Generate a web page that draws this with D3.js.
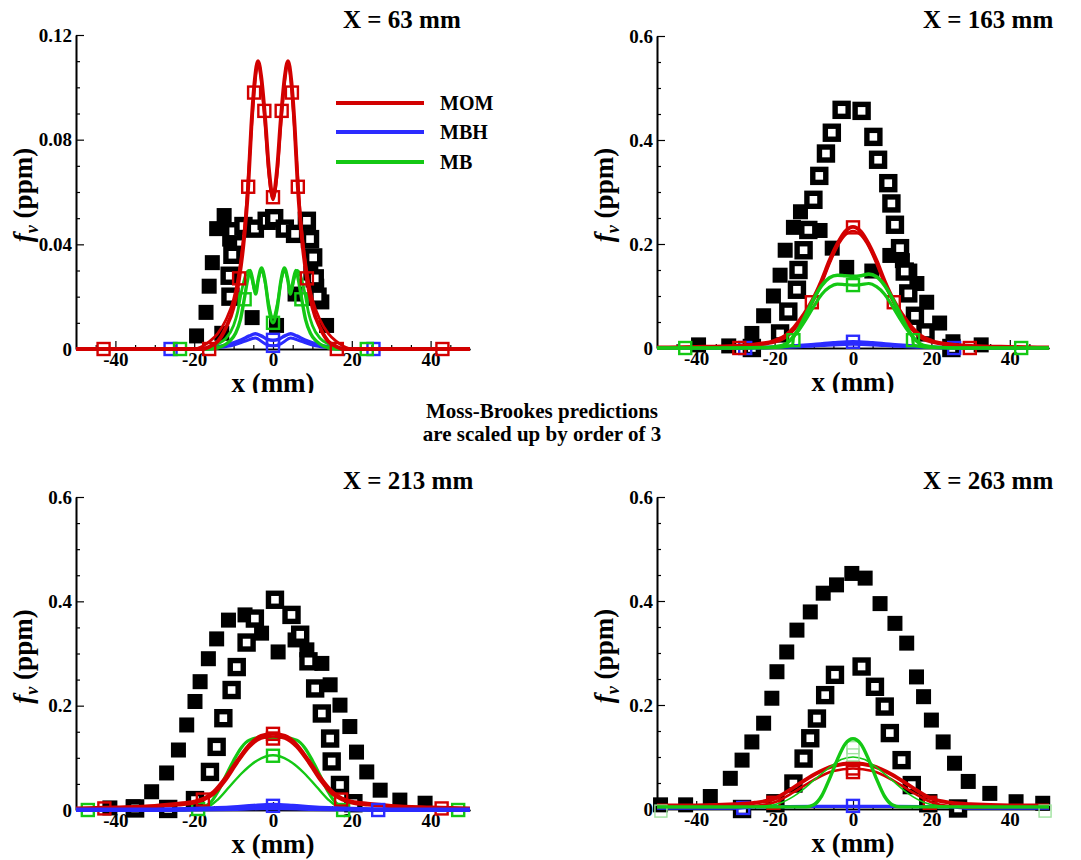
<!DOCTYPE html>
<html><head><meta charset="utf-8">
<script src="https://cdn.jsdelivr.net/npm/d3@7"></script>
<style>
body{margin:0;background:#fff}
svg{display:block}
</style></head>
<body><svg id="c" width="1081" height="860"></svg>
<script>
// ---------- tick values / labels ----------
const xTickValues = [-40,-20,0,20,40];
const xTickLabels = ["-40","-20","0","20","40"];
const xMinorTicks = [-45,-35,-30,-25,-15,-10,-5,5,10,15,25,30,35,45];
const yTickValues1 = [0,0.04,0.08,0.12];
const yTickLabels1 = ["0","0.04","0.08","0.12"];
const yMinorTicks1 = [0.01,0.02,0.03,0.05,0.06,0.07,0.09,0.10,0.11];
const yTickValues = [0,0.2,0.4,0.6];
const yTickLabels = ["0","0.2","0.4","0.6"];
const yMinorTicks = [0.05,0.1,0.15,0.25,0.3,0.35,0.45,0.5,0.55];
const titles = ["X = 63 mm","X = 163 mm","X = 213 mm","X = 263 mm"];
const legendNames = ["MOM","MBH","MB"];
const noteLines = ["Moss-Brookes predictions","are scaled up by order of 3"];

// ---------- Panel 1 : X = 63 mm ----------
const p1Filled = [[-19.4,0.005],[-17.0,0.014],[-16.2,0.024],[-15.4,0.033],[-14.3,0.046],[-12.4,0.051],[-11.0,0.042],[-13.0,0.006],[-5.3,0.012],[0.9,0.009],[5.6,0.021],[9.6,0.029],[11.1,0.024],[12.4,0.018],[13.6,0.009]];
const p1Open = [[-10.8,0.020],[-11.0,0.028],[-10.3,0.036],[-10.1,0.045],[-7.5,0.047],[-4.6,0.046],[-1.6,0.049],[0.3,0.050],[3.0,0.046],[5.6,0.044],[8.6,0.049],[9.4,0.042],[10.2,0.035],[10.6,0.027],[11.3,0.020]];
const p1RedA = [[-50,0],[-18,0],[-16,0.001],[-14,0.003],[-12,0.008],[-10,0.016],[-8.6,0.027],[-7.5,0.040],[-6.3,0.062],[-5.5,0.085],[-4.6,0.103],[-3.8,0.110],[-3.0,0.104],[-2.0,0.088],[-1.0,0.068],[0,0.058],[1.0,0.068],[2.0,0.088],[3.0,0.104],[3.8,0.110],[4.6,0.103],[5.5,0.085],[6.3,0.062],[7.5,0.040],[8.6,0.027],[10,0.016],[12,0.008],[14,0.003],[16,0.001],[18,0],[50,0]];
const p1RedB = [[-50,0],[-20,0],[-18,0.001],[-16,0.003],[-14,0.006],[-12,0.011],[-10,0.019],[-9,0.026],[-8,0.036],[-7,0.050],[-6,0.072],[-5,0.094],[-4.2,0.107],[-3.6,0.109],[-3,0.103],[-2,0.086],[-1,0.066],[0,0.057],[1,0.066],[2,0.086],[3,0.103],[3.6,0.109],[4.2,0.107],[5,0.094],[6,0.072],[7,0.050],[8,0.036],[9,0.026],[10,0.019],[12,0.011],[14,0.006],[16,0.003],[18,0.001],[20,0],[50,0]];
const p1RedMarks = [[-43,0],[-16.2,0],[-8.6,0.027],[-6.3,0.062],[-4.8,0.098],[-2.2,0.091],[0,0.058],[2.2,0.091],[4.8,0.098],[6.3,0.062],[8.6,0.027],[16.2,0],[43,0]];
const p1GreenA = [[-50,0],[-16,0],[-13,0.001],[-11,0.003],[-9.5,0.006],[-8.3,0.011],[-7.3,0.019],[-6.5,0.026],[-5.8,0.030],[-5.1,0.026],[-4.4,0.021],[-3.7,0.027],[-2.9,0.031],[-2.0,0.026],[-1.0,0.015],[0,0.010],[1.0,0.015],[2.0,0.026],[2.9,0.031],[3.7,0.027],[4.4,0.021],[5.1,0.026],[5.8,0.030],[6.5,0.026],[7.3,0.019],[8.3,0.011],[9.5,0.006],[11,0.003],[13,0.001],[16,0],[50,0]];
const p1GreenB = [[-50,0],[-17,0],[-14,0.002],[-12,0.004],[-10,0.009],[-9,0.014],[-8,0.022],[-7,0.028],[-6.2,0.030],[-5.4,0.027],[-4.6,0.022],[-3.8,0.026],[-3.0,0.030],[-2.2,0.027],[-1.2,0.018],[0,0.012],[1.2,0.018],[2.2,0.027],[3.0,0.030],[3.8,0.026],[4.6,0.022],[5.4,0.027],[6.2,0.030],[7,0.028],[8,0.022],[9,0.014],[10,0.009],[12,0.004],[14,0.002],[17,0],[50,0]];
const p1GreenMarks = [[-23.6,0],[-7.2,0.019],[0,0.010],[7.2,0.019],[23.8,0]];
const p1BlueA = [[-50,0],[-20,0],[-16,0.0005],[-12,0.0015],[-8,0.0035],[-6,0.005],[-4.5,0.0058],[-3,0.005],[-1.5,0.0038],[0,0.0033],[1.5,0.0038],[3,0.005],[4.5,0.0058],[6,0.005],[8,0.0035],[12,0.0015],[16,0.0005],[20,0],[50,0]];
const p1BlueB = [[-50,0],[-18,0],[-14,0.0005],[-10,0.0015],[-7,0.003],[-4.5,0.0042],[-2,0.002],[0,0.0012],[2,0.002],[4.5,0.0042],[7,0.003],[10,0.0015],[14,0.0005],[18,0],[50,0]];
const p1BlueMarks = [[-26,0],[0,0.0035],[0,0.0012],[25.5,0]];

// ---------- Panel 2 : X = 163 mm ----------
const p2Filled = [[-39.4,0.006],[-31.7,0.004],[-25.8,0.028],[-22.8,0.062],[-20.3,0.100],[-18.6,0.140],[-17.3,0.188],[-15.2,0.232],[-13.4,0.262],[-8.4,0.226],[-5.3,0.192],[-1.6,0.155],[4.8,0.148],[9.4,0.178],[12.6,0.168],[14.5,0.148],[16.3,0.124],[18.8,0.088],[22.1,0.048],[25.5,0.012],[32.7,0.006]];
const p2Open = [[-25.8,0],[-18.6,0.028],[-16.5,0.070],[-14.3,0.112],[-13.9,0.150],[-12.6,0.188],[-11.4,0.227],[-10.1,0.285],[-8.6,0.331],[-6.9,0.374],[-5.4,0.414],[-2.9,0.458],[2.2,0.456],[5.2,0.406],[6.4,0.362],[9.0,0.317],[9.8,0.278],[10.7,0.237],[12.0,0.192],[13.2,0.147],[14.1,0.105],[15.8,0.062],[18.5,0.030],[25.1,0]];
const p2RedA = [[-50,0.001],[-40,0.002],[-30,0.004],[-25,0.007],[-20,0.014],[-17,0.025],[-15,0.040],[-12.5,0.065],[-10.5,0.090],[-8,0.130],[-6,0.168],[-4,0.200],[-2,0.224],[0,0.233],[2,0.224],[4,0.200],[6,0.168],[8,0.130],[10.5,0.090],[12.5,0.065],[15,0.040],[17,0.025],[20,0.014],[25,0.007],[30,0.004],[40,0.002],[50,0.001]];
const p2RedB = [[-50,0],[-40,0.001],[-30,0.003],[-25,0.005],[-20,0.011],[-17,0.021],[-15,0.035],[-12.5,0.060],[-10.5,0.085],[-8,0.124],[-6,0.162],[-4,0.195],[-2,0.217],[0,0.225],[2,0.217],[4,0.195],[6,0.162],[8,0.124],[10.5,0.085],[12.5,0.060],[15,0.035],[17,0.021],[20,0.011],[25,0.005],[30,0.003],[40,0.001],[50,0]];
const p2RedMarks = [[-29,0],[-10.5,0.088],[0,0.232],[10.4,0.088],[29.8,0]];
const p2GreenA = [[-50,0],[-30,0],[-22,0.001],[-18,0.005],[-16,0.015],[-14,0.035],[-12,0.065],[-10,0.095],[-8,0.120],[-6,0.135],[-4,0.140],[-2,0.139],[0,0.138],[2,0.139],[4,0.142],[6,0.137],[8,0.121],[10,0.096],[12,0.066],[14,0.036],[16,0.015],[18,0.005],[22,0.001],[30,0],[50,0]];
const p2GreenB = [[-50,0],[-30,0],[-20,0.001],[-17,0.003],[-15.4,0.006],[-15.2,0.020],[-14,0.032],[-12,0.055],[-10,0.080],[-8,0.103],[-6,0.117],[-4,0.123],[-2,0.122],[0,0.121],[2,0.122],[4,0.124],[6,0.118],[8,0.104],[10,0.081],[12,0.056],[14,0.033],[15.2,0.021],[15.4,0.006],[17,0.003],[20,0.001],[30,0],[50,0]];
const p2GreenMarks = [[-42.8,0],[-15.2,0.015],[0,0.121],[15.3,0.015],[42.9,0]];
const p2BlueA = [[-50,0],[-30,0],[-25,0.001],[-20,0.002],[-15,0.004],[-10,0.007],[-5,0.010],[0,0.012],[5,0.010],[10,0.007],[15,0.004],[20,0.002],[25,0.001],[30,0],[50,0]];
const p2BlueB = [[-50,0],[-25,0],[-20,0.001],[-15,0.002],[-10,0.004],[-5,0.006],[0,0.007],[5,0.006],[10,0.004],[15,0.002],[20,0.001],[25,0],[50,0]];
const p2BlueMarks = [[-27.5,0],[0,0.012],[25.8,0]];

// ---------- Panel 3 : X = 213 mm ----------
const p3Filled = [[-41.4,0.004],[-35.5,0.006],[-30.8,0.035],[-27.0,0.071],[-24.0,0.115],[-21.9,0.163],[-19.8,0.208],[-18.5,0.246],[-16.4,0.290],[-14.3,0.328],[-11.3,0.364],[-7.1,0.374],[-2.9,0.339],[1.3,0.303],[5.6,0.326],[8.6,0.307],[12.4,0.281],[14.5,0.240],[17.0,0.201],[19.5,0.160],[21.2,0.111],[23.8,0.073],[27.2,0.038],[32.2,0.019],[38.6,0.013]];
const p3Open = [[-35.0,0.003],[-26.6,0.002],[-19.8,0.019],[-16.0,0.073],[-14.3,0.121],[-12.6,0.176],[-10.5,0.230],[-9.2,0.274],[-6.7,0.321],[-4.6,0.367],[0.5,0.403],[4.7,0.374],[6.9,0.336],[9.0,0.285],[10.7,0.233],[12.4,0.185],[14.5,0.137],[14.9,0.093],[17.0,0.048],[20.4,0.013]];
const p3RedA = [[-50,0.003],[-40,0.005],[-30,0.008],[-24,0.012],[-20,0.016],[-17.5,0.022],[-15,0.035],[-12,0.062],[-9,0.095],[-6,0.125],[-3,0.142],[0,0.146],[3,0.142],[6,0.125],[9,0.095],[12,0.062],[15,0.035],[17.5,0.022],[20,0.016],[24,0.012],[30,0.008],[40,0.005],[50,0.003]];
const p3RedB = [[-50,0.002],[-40,0.004],[-30,0.006],[-24,0.009],[-20,0.013],[-17.5,0.019],[-15,0.030],[-12,0.056],[-9,0.090],[-6,0.120],[-3,0.137],[0,0.141],[3,0.137],[6,0.120],[9,0.090],[12,0.056],[15,0.030],[17.5,0.019],[20,0.013],[24,0.009],[30,0.006],[40,0.004],[50,0.002]];
const p3RedMarks = [[-42.8,0.003],[-17.8,0.020],[0,0.146],[0,0.137],[17.3,0.020],[42.8,0.003]];
const p3GreenA = [[-50,0],[-25,0],[-20,0.002],[-18,0.005],[-16,0.013],[-14,0.035],[-12,0.065],[-10,0.095],[-8,0.120],[-6,0.134],[-3,0.139],[0,0.139],[3,0.139],[6,0.134],[8,0.120],[10,0.095],[12,0.065],[14,0.035],[16,0.013],[18,0.005],[20,0.002],[25,0],[50,0]];
const p3GreenB = [[-50,0],[-25,0],[-20,0.001],[-17,0.004],[-14,0.020],[-11,0.045],[-8,0.070],[-4,0.095],[0,0.105],[4,0.095],[8,0.070],[11,0.045],[14,0.020],[17,0.004],[20,0.001],[25,0],[50,0]];
const p3GreenMarks = [[-47,0],[-19,0.002],[0,0.104],[17.8,0],[47,0]];
const p3BlueA = [[-50,0.001],[-30,0.001],[-20,0.002],[-10,0.005],[-5,0.008],[0,0.010],[5,0.008],[10,0.005],[20,0.002],[30,0.001],[50,0.001]];
const p3BlueB = [[-50,0],[-30,0],[-20,0.001],[-10,0.002],[0,0.004],[10,0.002],[20,0.001],[30,0],[50,0]];
const p3BlueMarks = [[0,0.008],[26.7,0]];

// ---------- Panel 4 : X = 263 mm ----------
const p4Filled = [[-49.1,0.008],[-42.7,0.008],[-36.4,0.024],[-31.3,0.059],[-28.3,0.094],[-25.8,0.129],[-22.8,0.165],[-20.7,0.213],[-19.4,0.264],[-16.9,0.302],[-14.3,0.344],[-10.9,0.379],[-7.6,0.415],[-4.2,0.431],[-0.3,0.453],[3.1,0.444],[6.9,0.395],[10.7,0.357],[13.7,0.319],[16.2,0.254],[18.0,0.216],[20.0,0.171],[23.0,0.129],[25.9,0.088],[29.4,0.053],[34.9,0.030],[41.6,0.014],[48.4,0.011]];
const p4Open = [[-28.3,0],[-19.8,0.011],[-15.2,0.049],[-12.6,0.097],[-10.9,0.136],[-9.2,0.174],[-7.1,0.219],[-4.6,0.258],[2.2,0.274],[5.6,0.235],[8.1,0.197],[9.4,0.146],[12.4,0.094],[15.0,0.046],[19.2,0.011],[26.8,0.001]];
const p4RedA = [[-50,0.007],[-40,0.007],[-30,0.009],[-25,0.012],[-20,0.020],[-15,0.042],[-10,0.066],[-5,0.083],[0,0.088],[5,0.083],[10,0.066],[15,0.042],[20,0.020],[25,0.012],[30,0.009],[40,0.007],[50,0.007]];
const p4RedB = [[-50,0.004],[-40,0.004],[-30,0.004],[-25,0.006],[-20,0.013],[-15,0.033],[-10,0.056],[-5,0.073],[0,0.078],[5,0.073],[10,0.056],[15,0.033],[20,0.013],[25,0.005],[30,0.003],[40,0.004],[50,0.004]];
const p4RedMarks = [[-20.3,0.012],[0,0.078],[0,0.071],[19.6,0.012]];
const p4GreenA = [[-50,0.004],[-20,0.004],[-12,0.004],[-10,0.008],[-8,0.025],[-6,0.058],[-4,0.095],[-2,0.125],[0,0.135],[2,0.125],[4,0.095],[6,0.058],[8,0.025],[10,0.008],[12,0.004],[20,0.004],[50,0.004]];
const p4GreenB = [[-50,0.003],[-30,0.003],[-22,0.006],[-18,0.013],[-14,0.030],[-10,0.055],[-6,0.080],[-3,0.095],[0,0.100],[3,0.095],[6,0.080],[10,0.055],[14,0.030],[18,0.013],[22,0.006],[30,0.003],[50,0.003]];
const p4GreenMarks = [[-49,-0.004],[0,0.118],[0,0.104],[49,-0.004]];
const p4BlueA = [[-50,0.002],[-30,0.002],[-25,0.004],[-10,0.005],[0,0.005],[10,0.005],[25,0.004],[30,0.002],[50,0.002]];
const p4BlueMarks = [[-28,0.002],[0,0.006]];

// ---------- styling ----------
const FONT = '"Liberation Serif","Times New Roman",serif';
const RED = "#d20000", BLUE = "#2b2bff", GREEN = "#14c814", LGREEN = "#9fe39f";

const layout = [
  {x0:76,  x1:470,  y0:35,  y1:349, tx:343, ty:28,  clipY:393},
  {x0:657, x1:1049, y0:36,  y1:348, tx:923, ty:28,  clipY:393},
  {x0:76,  x1:470,  y0:497, y1:810, tx:343, ty:489, clipY:860},
  {x0:657, x1:1049, y0:497, y1:809, tx:923, ty:489, clipY:860}
];

const panels = [
  {yMax:0.12, yt:yTickValues1, yl:yTickLabels1, ym:yMinorTicks1, filled:p1Filled, open:p1Open,
   series:[{d:p1BlueB,c:BLUE,w:3},{d:p1BlueA,c:BLUE,w:3.4,m:p1BlueMarks},
           {d:p1GreenB,c:GREEN,w:2.8},{d:p1GreenA,c:GREEN,w:3.4,m:p1GreenMarks},
           {d:p1RedB,c:RED,w:2.8},{d:p1RedA,c:RED,w:3.9,m:p1RedMarks}]},
  {yMax:0.6, yt:yTickValues, yl:yTickLabels, ym:yMinorTicks, filled:p2Filled, open:p2Open,
   series:[{d:p2BlueB,c:BLUE,w:3},{d:p2BlueA,c:BLUE,w:3.4,m:p2BlueMarks},
           {d:p2RedB,c:RED,w:2.6},{d:p2RedA,c:RED,w:3.9,m:p2RedMarks},
           {d:p2GreenA,c:GREEN,w:3.6},{d:p2GreenB,c:GREEN,w:3.2,m:p2GreenMarks}]},
  {yMax:0.6, yt:yTickValues, yl:yTickLabels, ym:yMinorTicks, filled:p3Filled, open:p3Open,
   series:[{d:p3GreenA,c:GREEN,w:3.2},{d:p3GreenB,c:GREEN,w:2.4,m:p3GreenMarks},
           {d:p3RedB,c:RED,w:2.4},{d:p3RedA,c:RED,w:3.9,m:p3RedMarks},
           {d:p3BlueB,c:BLUE,w:4.2},{d:p3BlueA,c:BLUE,w:4.2,m:p3BlueMarks}]},
  {yMax:0.6, yt:yTickValues, yl:yTickLabels, ym:yMinorTicks, filled:p4Filled, open:p4Open,
   series:[{d:p4BlueA,c:BLUE,w:3.4,m:p4BlueMarks},
           {d:p4RedB,c:RED,w:2.6,m:p4RedMarks},{d:p4RedA,c:RED,w:3.9},
           {d:p4GreenB,c:GREEN,w:1.6,m:p4GreenMarks,mc:LGREEN},{d:p4GreenA,c:GREEN,w:3.4}]}
];

const svg = d3.select("#c");
const defs = svg.append("defs");
function txt(sel){ return sel.attr("font-family",FONT).attr("font-weight","bold").attr("fill","#000"); }

panels.forEach((P, i) => {
  const L = layout[i];
  const x = d3.scaleLinear().domain([-50,50]).range([L.x0, L.x1]);
  const y = d3.scaleLinear().domain([0,P.yMax]).range([L.y1, L.y0]);
  const g = svg.append("g");

  // axes (ticks point inward)
  const ax = d3.axisBottom(x).tickValues(xTickValues).tickFormat((d,k)=>xTickLabels[k])
      .tickSizeInner(-8).tickSizeOuter(0).tickPadding(4);
  const axm = d3.axisBottom(x).tickValues(xMinorTicks).tickFormat("").tickSizeInner(-4).tickSizeOuter(0);
  const ay = d3.axisLeft(y).tickValues(P.yt).tickFormat((d,k)=>P.yl[k])
      .tickSizeInner(-8).tickSizeOuter(0).tickPadding(4);
  const aym = d3.axisLeft(y).tickValues(P.ym).tickFormat("").tickSizeInner(-4).tickSizeOuter(0);

  g.append("g").attr("transform",`translate(0,${L.y1})`).call(ax);
  g.append("g").attr("transform",`translate(0,${L.y1})`).call(axm);
  g.append("g").attr("transform",`translate(${L.x0},0)`).call(ay);
  g.append("g").attr("transform",`translate(${L.x0},0)`).call(aym);
  g.selectAll(".domain").attr("stroke","#000").attr("stroke-width",1.6);
  g.selectAll(".tick line").attr("stroke","#000").attr("stroke-width",1.2);
  txt(g.selectAll(".tick text")).attr("font-size",19);

  // experimental symbols
  g.selectAll(null).data(P.filled).join("rect")
    .attr("x",d=>x(d[0])-7.5).attr("y",d=>y(d[1])-7.5).attr("width",15).attr("height",15).attr("fill","#000");
  g.selectAll(null).data(P.open).join("rect")
    .attr("x",d=>x(d[0])-6.5).attr("y",d=>y(d[1])-6.5).attr("width",13).attr("height",13)
    .attr("fill","#fff").attr("stroke","#000").attr("stroke-width",5.4);

  // model curves
  const line = d3.line().x(d=>x(d[0])).y(d=>y(d[1])).curve(d3.curveMonotoneX);
  P.series.forEach(s => {
    g.append("path").attr("d",line(s.d)).attr("fill","none").attr("stroke",s.c)
      .attr("stroke-width",s.w).attr("stroke-linejoin","round");
    if (s.m) {
      g.selectAll(null).data(s.m).join("rect")
        .attr("x",d=>x(d[0])-6).attr("y",d=>y(d[1])-6).attr("width",12).attr("height",12)
        .attr("fill","none").attr("stroke",s.mc||s.c).attr("stroke-width",s.mc?1.4:2.4);
    }
  });

  // title
  txt(svg.append("text")).attr("x",L.tx).attr("y",L.ty).attr("font-size",25).text(titles[i]);

  // x label (clipped like reference)
  const cid = "clip"+i;
  defs.append("clipPath").attr("id",cid).append("rect")
    .attr("x",0).attr("y",0).attr("width",1081).attr("height",L.clipY);
  txt(svg.append("text")).attr("clip-path",`url(#${cid})`)
    .attr("x",(L.x0+L.x1)/2).attr("y",L.y1+43).attr("text-anchor","middle")
    .attr("font-size",27).text("x (mm)");

  // y label
  const yl = txt(svg.append("text")).attr("text-anchor","middle").attr("font-size",27)
    .attr("transform",`translate(${L.x0-44},${(L.y0+L.y1)/2+3}) rotate(-90)`);
  yl.append("tspan").attr("font-style","italic").text("f");
  yl.append("tspan").attr("font-style","italic").attr("font-size",18).attr("dy",6).text("v");
  yl.append("tspan").attr("dy",-6).text(" (ppm)");
});

// legend (panel 1)
const legColors = [RED, BLUE, GREEN];
const legY = [103,132,162];
legendNames.forEach((n,k) => {
  svg.append("line").attr("x1",336).attr("x2",424).attr("y1",legY[k]).attr("y2",legY[k])
     .attr("stroke",legColors[k]).attr("stroke-width",4);
  txt(svg.append("text")).attr("x",440).attr("y",legY[k]+7).attr("font-size",20).text(n);
});

// central note
noteLines.forEach((t,k) => {
  txt(svg.append("text")).attr("x",542).attr("y",418+k*23).attr("text-anchor","middle")
     .attr("font-size",21).text(t);
});
</script>
</body></html>
